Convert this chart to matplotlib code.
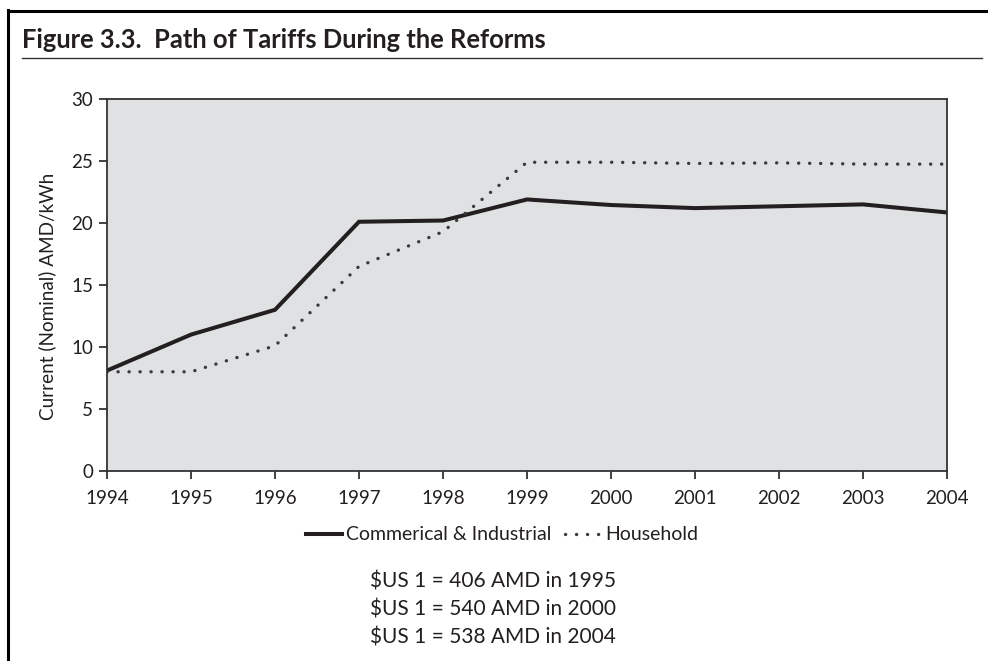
import matplotlib
matplotlib.use('Agg')
import matplotlib.pyplot as plt
from matplotlib.lines import Line2D

plt.rcParams['font.family'] = ['Lato', 'DejaVu Sans']

# data
years = [1994, 1995, 1996, 1997, 1998, 1999, 2000, 2001, 2002, 2003, 2004]
commercial = [8.1, 11.0, 13.0, 20.1, 20.2, 21.9, 21.45, 21.2, 21.35, 21.5, 20.85]
household = [8.0, 8.0, 10.1, 16.5, 19.3, 24.9, 24.9, 24.8, 24.85, 24.75, 24.75]
series_labels = ['Commerical & Industrial', 'Household']
yticks = [0, 5, 10, 15, 20, 25, 30]
notes = ['$US 1 = 406 AMD in 1995', '$US 1 = 540 AMD in 2000', '$US 1 = 538 AMD in 2004']

W, H = 988, 661
ink = '#231f20'


def fx(px):
    return px / W


def fy(py):
    return 1 - py / H


fig = plt.figure(figsize=(W / 100, H / 100), dpi=100)

# frame and title
fig.add_artist(Line2D([fx(8), fx(8)], [fy(10), 0], color='black', lw=2.2, transform=fig.transFigure))
fig.add_artist(Line2D([fx(8), 1], [fy(11), fy(11)], color='black', lw=2.2, transform=fig.transFigure))
fig.add_artist(Line2D([fx(22), fx(982)], [fy(58), fy(58)], color='#333333', lw=1.0, transform=fig.transFigure))
fig.text(fx(22), fy(40), 'Figure 3.3.  Path of Tariffs During the Reforms', fontsize=18.4,
         fontweight='bold', color=ink, va='center', ha='left')

ax = fig.add_axes([fx(107), fy(471), fx(947) - fx(107), fy(99) - fy(471)])
ax.set_facecolor('#e0e1e3')

ax.plot(years, commercial, color=ink, lw=2.9, solid_joinstyle='miter', label=series_labels[0])
ax.plot(years, household, color='#3a3a3c', lw=2.4, linestyle=(0, (0.05, 3.25)),
        dash_capstyle='round', label=series_labels[1])

ax.set_xlim(1994, 2004)
ax.set_ylim(0, 30)
ax.set_xticks(years)
ax.set_yticks(yticks)
for s in ax.spines.values():
    s.set_color('#333333')
    s.set_linewidth(1.3)
ax.tick_params(axis='both', direction='out', length=6, width=1.3, color='#333333',
               labelsize=13.5, labelcolor=ink)
ax.tick_params(axis='y', pad=4)
ax.tick_params(axis='x', pad=8)
ax.set_ylabel('Current (Nominal) AMD/kWh', fontsize=13.6, color=ink)
ax.yaxis.set_label_coords(-0.060, 0.47)

fig.legend(loc='center', bbox_to_anchor=(fx(502), fy(535)), ncol=2, frameon=False,
           fontsize=14, handlelength=1.85, handletextpad=0.2, columnspacing=0.75,
           labelcolor=ink)

for i, line in enumerate(notes):
    fig.text(fx(493), fy(581 + 28.5 * i), line, fontsize=15, color=ink, ha='center', va='center')

fig.savefig('out.png', dpi=100)
